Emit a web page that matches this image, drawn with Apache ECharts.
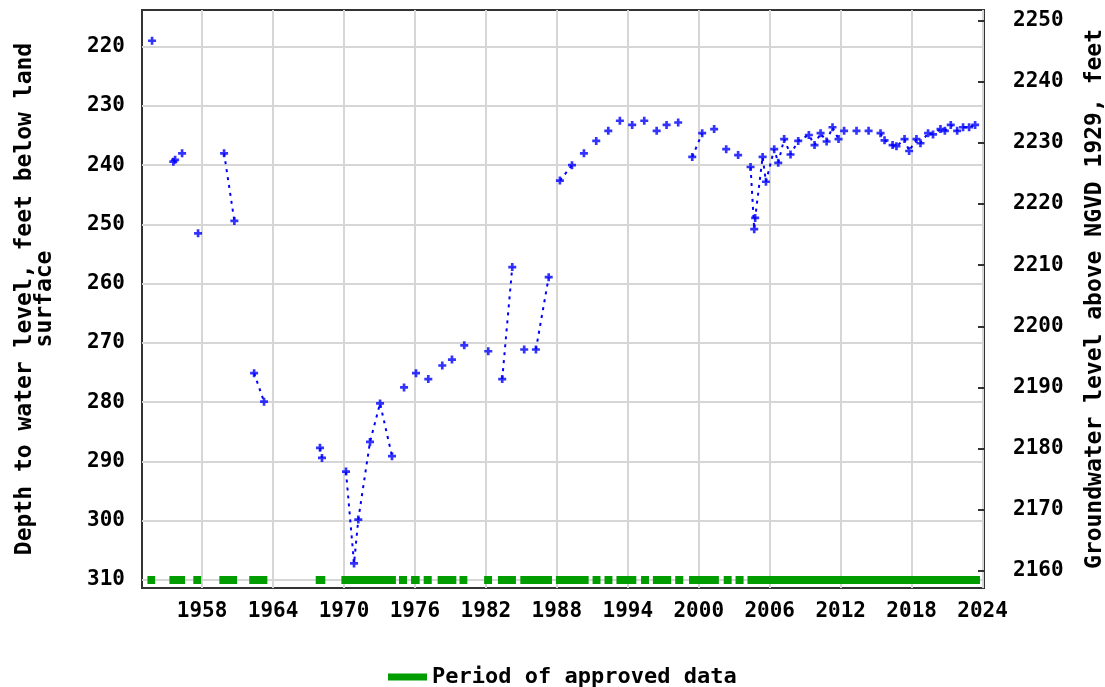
<!DOCTYPE html>
<html>
<head>
<meta charset="utf-8">
<script src="https://cdn.jsdelivr.net/npm/echarts@6/dist/echarts.min.js"></script>
<style>
  html, body { margin: 0; padding: 0; background: #fff; }
  #chart { width: 1105px; height: 687px; }
</style>
</head>
<body>
<div id="chart"></div>
<script>
// measurements: decimal year, depth to water (ft below land surface)
const measYears = [
  1953.77, 1955.57, 1955.72, 1956.31, 1957.66, 1959.86, 1960.73, 1962.40, 1963.24, 1967.97,
  1968.14, 1970.17, 1970.85, 1971.21, 1972.20, 1973.05, 1974.06, 1975.08, 1976.09, 1977.13,
  1978.31, 1979.13, 1980.17, 1982.20, 1983.38, 1984.23, 1985.24, 1986.23, 1987.31, 1988.26,
  1989.28, 1990.29, 1991.33, 1992.35, 1993.33, 1994.37, 1995.39, 1996.44, 1997.28, 1998.26,
  1999.45, 2000.29, 2001.30, 2002.32, 2003.33, 2004.38, 2004.69, 2004.77, 2005.40, 2005.68,
  2006.38, 2006.72, 2007.22, 2007.76, 2008.41, 2009.31, 2009.79, 2010.30, 2010.81, 2011.31,
  2011.82, 2012.29, 2013.34, 2014.36, 2015.37, 2015.71, 2016.39, 2016.72, 2017.40, 2017.79,
  2018.41, 2018.75, 2019.39, 2019.81, 2020.44, 2020.81, 2021.31, 2021.85, 2022.35, 2022.86,
  2023.37
];
const measDepths = [
  219.0, 239.4, 239.1, 238.0, 251.5, 238.0, 249.4, 275.1, 279.9, 287.7,
  289.4, 291.7, 307.2, 299.8, 286.7, 280.2, 289.1, 277.5, 275.1, 276.1,
  273.8, 272.8, 270.4, 271.4, 276.1, 257.2, 271.1, 271.1, 258.9, 242.6,
  240.0, 238.0, 235.9, 234.2, 232.5, 233.2, 232.5, 234.2, 233.2, 232.8,
  238.6, 234.6, 233.9, 237.3, 238.3, 240.3, 250.8, 248.9, 238.6, 242.8,
  237.3, 239.6, 235.6, 238.2, 235.9, 234.9, 236.6, 234.6, 236.0, 233.6,
  235.6, 234.2, 234.2, 234.2, 234.6, 235.8, 236.6, 236.8, 235.6, 237.6,
  235.6, 236.3, 234.6, 234.8, 233.9, 234.2, 233.2, 234.2, 233.6, 233.6,
  233.2
];
// 1 = joined to the previous measurement by the dotted line
const joinedToPrev = [
  0, 0, 1, 0, 0, 0, 1, 0, 1, 0,
  1, 0, 1, 1, 1, 1, 1, 0, 0, 0,
  0, 0, 0, 0, 0, 1, 0, 0, 1, 0,
  1, 0, 0, 0, 0, 0, 0, 0, 0, 0,
  0, 1, 0, 0, 0, 0, 1, 1, 1, 1,
  1, 1, 1, 1, 1, 1, 1, 1, 1, 1,
  1, 0, 0, 0, 0, 1, 1, 1, 1, 1,
  1, 1, 1, 1, 1, 1, 1, 1, 1, 1,
  1
];

// periods of approved data
const approvedStart = [
  1953.38, 1955.24, 1957.26, 1959.46, 1961.99, 1967.61, 1969.78, 1974.65, 1975.67, 1976.74,
  1977.92, 1979.77, 1981.85, 1983.02, 1984.91, 1987.92, 1991.02, 1992.03, 1993.04, 1995.12,
  1996.12, 1998.01, 1999.18, 2002.11, 2003.11, 2004.12
];
const approvedEnd = [
  1954.03, 1956.56, 1957.92, 1960.96, 1963.52, 1968.42, 1974.39, 1975.33, 1976.40, 1977.42,
  1979.50, 1980.43, 1982.52, 1984.54, 1987.59, 1990.69, 1991.69, 1992.70, 1994.72, 1995.79,
  1997.67, 1998.69, 2001.70, 2002.78, 2003.79, 2023.78
];

const yearTicks = [1958, 1964, 1970, 1976, 1982, 1988, 1994, 2000, 2006, 2012, 2018, 2024];
const depthTicks = [220, 230, 240, 250, 260, 270, 280, 290, 300, 310];
const elevTicks = [2160, 2170, 2180, 2190, 2200, 2210, 2220, 2230, 2240, 2250];

const FONT = '"DejaVu Sans Mono", "Liberation Mono", monospace';
const APPROVED_DEPTH = 310;

const points = measYears.map((y, i) => [y, measDepths[i]]);

const lineData = [];
measYears.forEach((y, i) => {
  if (i > 0 && !joinedToPrev[i]) lineData.push(null);
  lineData.push([y, measDepths[i]]);
});

const approvedData = [];
approvedStart.forEach((s, i) => {
  if (i > 0) approvedData.push(null);
  approvedData.push([s, APPROVED_DEPTH], [approvedEnd[i], APPROVED_DEPTH]);
});

const chart = echarts.init(document.getElementById('chart'), null, { renderer: 'canvas' });

const plain = (v) => String(v);
const labelStyle = { color: '#000', fontFamily: FONT, fontWeight: 'bold', fontSize: 21, formatter: plain };

chart.setOption({
  animation: false,
  backgroundColor: '#fff',
  grid: {
    left: 142, right: 121, top: 10, bottom: 99,
    containLabel: false,
    outerBoundsMode: 'none',
    show: true,
    borderColor: '#333',
    borderWidth: 2,
    backgroundColor: '#fff'
  },
  legend: {
    data: ['Period of approved data'],
    left: 383,
    top: 661,
    icon: 'rect',
    itemWidth: 39,
    itemHeight: 7,
    itemGap: 8,
    textStyle: { color: '#000', fontFamily: FONT, fontWeight: 'bold', fontSize: 22 }
  },
  xAxis: {
    type: 'value',
    min: 1952.92,
    max: 2024.12,
    axisLine: { show: false },
    axisTick: { show: false, customValues: yearTicks },
    axisLabel: Object.assign({ customValues: yearTicks, margin: 13 }, labelStyle),
    splitLine: { show: true, lineStyle: { color: '#d6d6d6', width: 2 } }
  },
  yAxis: [
    {
      type: 'value',
      inverse: true,
      min: 213.81,
      max: 311.35,
      position: 'left',
      name: 'Depth to water level, feet below land\nsurface',
      nameLocation: 'middle',
      nameRotate: 90,
      nameGap: 87,
      nameTextStyle: { color: '#000', fontFamily: FONT, fontWeight: 'bold', fontSize: 23, lineHeight: 20 },
      axisLine: { show: false },
      axisTick: { show: false, customValues: depthTicks },
      axisLabel: Object.assign({ customValues: depthTicks, margin: 17 }, labelStyle),
      splitLine: { show: true, lineStyle: { color: '#d6d6d6', width: 2 } }
    },
    {
      type: 'value',
      min: 2157.17,
      max: 2251.75,
      position: 'right',
      name: 'Groundwater level above NGVD 1929, feet',
      nameLocation: 'middle',
      nameRotate: 90,
      nameGap: 100,
      nameTextStyle: { color: '#000', fontFamily: FONT, fontWeight: 'bold', fontSize: 23 },
      axisLine: { show: false },
      axisTick: { show: true, inside: true, length: 6, customValues: elevTicks, lineStyle: { color: '#333', width: 2 } },
      axisLabel: Object.assign({ customValues: elevTicks, margin: 29 }, labelStyle),
      splitLine: { show: false }
    }
  ],
  series: [
    {
      name: 'Period of approved data',
      type: 'line',
      data: approvedData,
      connectNulls: false,
      showSymbol: false,
      symbol: 'none',
      lineStyle: { color: '#009c00', width: 8, cap: 'butt' },
      itemStyle: { color: '#009c00' },
      z: 2
    },
    {
      name: 'link',
      type: 'line',
      data: lineData,
      connectNulls: false,
      showSymbol: false,
      symbol: 'none',
      lineStyle: { color: '#0000ff', width: 2, type: [3, 5] },
      z: 3
    },
    {
      name: 'Depth to water',
      type: 'scatter',
      data: points,
      symbol: 'path://M3,0H6V3H9V6H6V9H3V6H0V3H3Z',
      symbolSize: 8,
      itemStyle: { color: '#0000ff' },
      z: 4
    }
  ]
});
</script>
</body>
</html>
